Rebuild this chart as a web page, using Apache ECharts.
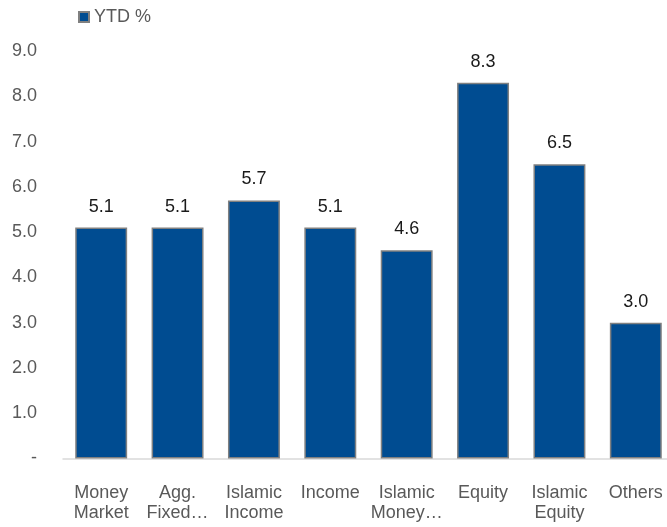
<!DOCTYPE html>
<html>
<head>
<meta charset="utf-8">
<script src="https://cdn.jsdelivr.net/npm/echarts@6/dist/echarts.min.js"></script>
<style>
  html, body { margin: 0; padding: 0; background: #fff; overflow: hidden; }
  /* the plot runs a few pixels past the right edge of the window */
  #chart { width: 674px; height: 527px; }
</style>
</head>
<body>
<div id="chart"></div>
<script>
// Fund categories (as labelled under each bar)
const categories = [
  'Money\nMarket', 'Agg.\nFixed\u2026', 'Islamic\nIncome', 'Income',
  'Islamic\nMoney\u2026', 'Equity', 'Islamic\nEquity', 'Others'
];
// Year-to-date return, percent
const ytdValues = [5.1, 5.1, 5.7, 5.1, 4.6, 8.3, 6.5, 3.0];
const seriesName = 'YTD %';

const axisTextColor = '#595959';
const font = 'Liberation Sans, Arial, sans-serif';

const chart = echarts.init(document.getElementById('chart'), null, { renderer: 'canvas' });
chart.setOption({
  animation: false,
  backgroundColor: '#ffffff',
  textStyle: { fontFamily: font },
  legend: {
    left: 73,
    top: 3,
    icon: 'rect',
    itemWidth: 10,
    itemHeight: 10,
    textStyle: { fontSize: 18, color: axisTextColor, fontFamily: font },
    data: [seriesName]
  },
  grid: {
    left: 63,
    right: 0,
    top: 51,
    height: 407.5,
    containLabel: false
  },
  xAxis: {
    type: 'category',
    data: categories,
    axisLine: { show: true, lineStyle: { color: '#d9d9d9', width: 1.5 } },
    axisTick: { show: false },
    axisLabel: {
      interval: 0,
      margin: 25,
      fontSize: 18,
      lineHeight: 20,
      color: axisTextColor,
      fontFamily: font
    }
  },
  yAxis: {
    type: 'value',
    min: 0,
    max: 9,
    interval: 1,
    splitLine: { show: false },
    axisLine: { show: false },
    axisTick: { show: false },
    axisLabel: {
      margin: 26,
      fontSize: 18,
      color: axisTextColor,
      fontFamily: font,
      formatter: v => (v === 0 ? '-' : v.toFixed(1))
    }
  },
  series: [{
    name: seriesName,
    type: 'bar',
    data: ytdValues,
    barWidth: '68%',
    itemStyle: {
      color: '#004C91',
      borderColor: '#808080',
      borderWidth: 1.5
    },
    label: {
      show: true,
      position: 'top',
      distance: 12,
      fontSize: 18,
      color: '#1a1a1a',
      fontFamily: font,
      formatter: p => p.value.toFixed(1)
    }
  }]
});
</script>
</body>
</html>
